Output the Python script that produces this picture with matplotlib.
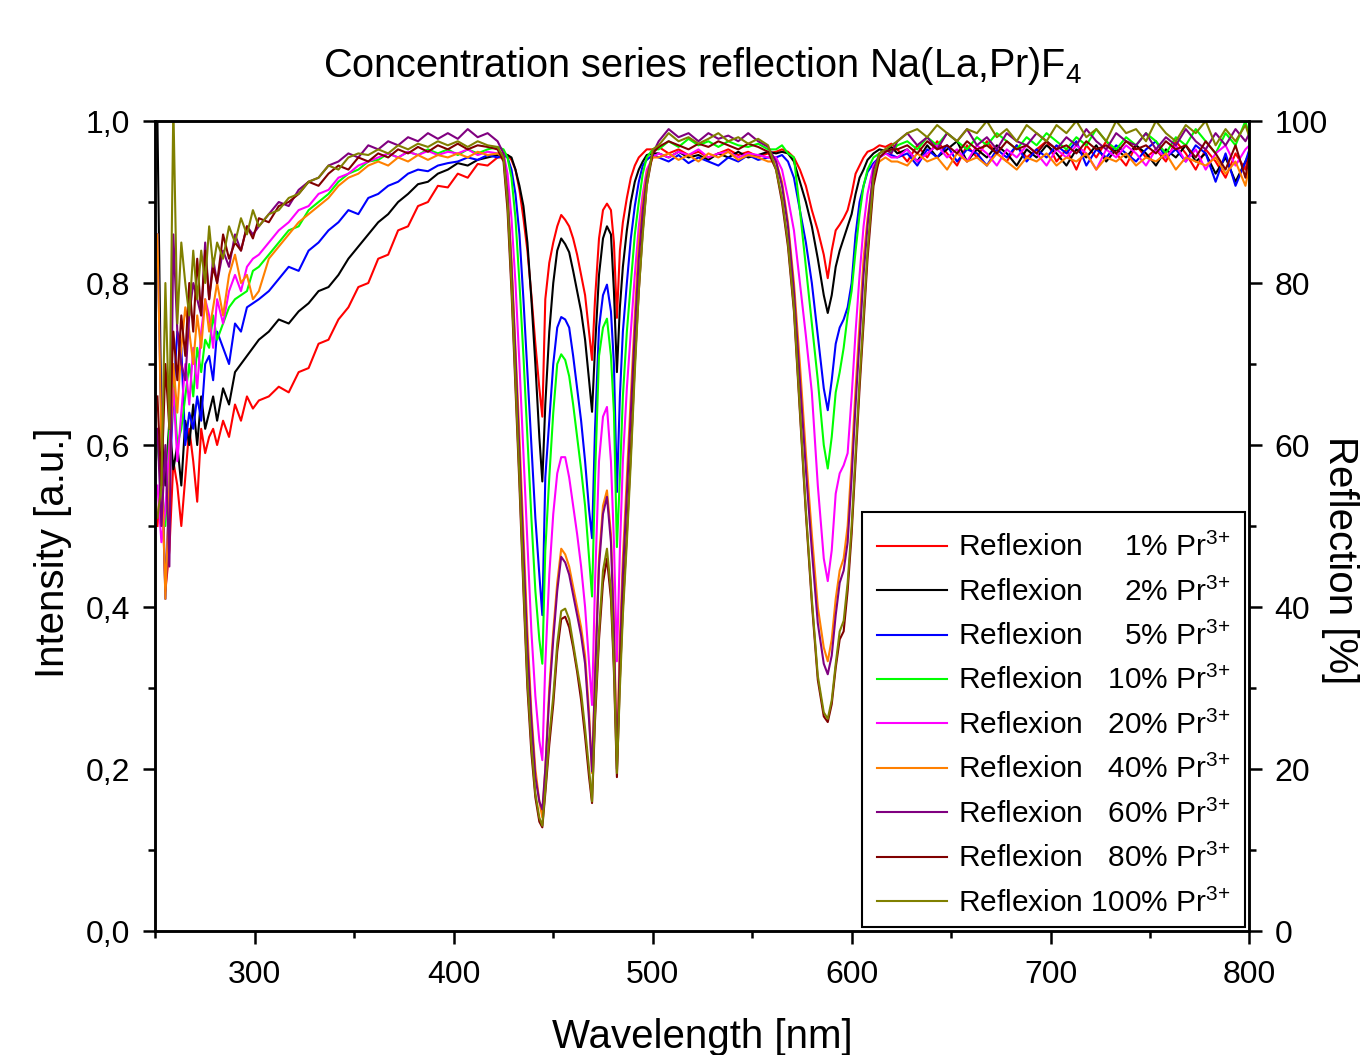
import numpy as np
import matplotlib
matplotlib.use("Agg")
import matplotlib.pyplot as plt
import matplotlib.transforms as mtransforms
from matplotlib.ticker import MultipleLocator, FuncFormatter

plt.rcParams['font.family'] = ['Liberation Sans', 'DejaVu Sans']
plt.rcParams['mathtext.fontset'] = 'custom'
plt.rcParams['mathtext.rm'] = 'Liberation Sans'
plt.rcParams['mathtext.it'] = 'Liberation Sans:italic'
plt.rcParams['mathtext.bf'] = 'Liberation Sans:bold'

# wavelength grid [nm]
wavelength = [
    251, 253, 255, 257, 259, 261, 263, 265, 267, 269, 271, 273, 275, 277, 279, 281, 284, 287, 290, 293, 296, 299,
    302, 307, 312, 317, 322, 327, 332, 337, 342, 347, 352, 357, 362, 367, 372, 377, 382, 387, 392, 397, 402, 407, 412, 417, 422,
    425, 427, 429, 431, 433, 435, 437, 439, 441, 443, 444.5, 446, 448, 450, 452, 454, 456, 458, 460, 462, 464, 466, 468,
    469.5, 471, 473, 475, 477, 479, 480.5, 482, 483.5, 485, 487, 489, 491, 493, 495, 497, 500,
    503, 508, 513, 518, 523, 528, 533, 538, 543, 548, 553, 558,
    562, 565, 568, 571, 574, 577, 580, 583, 586, 588, 590, 592, 594, 596, 598, 600, 602, 604, 606, 608, 611, 614, 617, 620,
    623, 628, 633, 638, 643, 648, 653, 658, 663, 668, 673, 678, 683, 688, 693, 698, 703, 708, 713, 718,
    723, 728, 733, 738, 743, 748, 753, 758, 763, 768, 773, 778, 783, 788, 793, 798, 800,
]

pr_1 = [
    0.50, 0.57, 0.42, 0.47, 0.58, 0.55, 0.50, 0.56, 0.62, 0.58, 0.53, 0.62, 0.59, 0.61, 0.62, 0.60, 0.63, 0.61, 0.65, 0.63, 0.66, 0.645,
    0.655, 0.66, 0.672, 0.665, 0.69, 0.695, 0.725, 0.73, 0.755, 0.77, 0.795, 0.80, 0.83, 0.835, 0.865, 0.87, 0.895, 0.90, 0.92, 0.918, 0.935, 0.93, 0.947, 0.945, 0.955,
    0.955, 0.958, 0.952, 0.94, 0.915, 0.88, 0.84, 0.785, 0.725, 0.67, 0.635, 0.78, 0.825, 0.85, 0.87, 0.884, 0.878, 0.87, 0.855, 0.835, 0.81, 0.785, 0.74,
    0.705, 0.78, 0.855, 0.89, 0.898, 0.89, 0.85, 0.757, 0.84, 0.875, 0.905, 0.93, 0.945, 0.955, 0.96, 0.965, 0.965,
    0.968, 0.96, 0.965, 0.958, 0.962, 0.955, 0.96, 0.965, 0.958, 0.962, 0.956, 0.96,
    0.962, 0.965, 0.962, 0.955, 0.94, 0.92, 0.89, 0.865, 0.835, 0.806, 0.84, 0.865, 0.872, 0.88, 0.89, 0.91, 0.935, 0.945, 0.955, 0.962, 0.965, 0.97, 0.968, 0.972,
    0.965, 0.95, 0.97, 0.955, 0.975, 0.96, 0.945, 0.97, 0.955, 0.975, 0.96, 0.95, 0.97, 0.955, 0.965, 0.975, 0.95, 0.965, 0.94, 0.97,
    0.955, 0.975, 0.96, 0.945, 0.97, 0.955, 0.965, 0.95, 0.975, 0.96, 0.94, 0.965, 0.95, 0.93, 0.96, 0.94, 0.965,
]
pr_2 = [
    1.0, 0.62, 0.55, 0.63, 0.57, 0.60, 0.55, 0.63, 0.60, 0.65, 0.60, 0.66, 0.62, 0.64, 0.66, 0.63, 0.67, 0.65, 0.69, 0.70, 0.71, 0.72,
    0.73, 0.74, 0.755, 0.75, 0.765, 0.775, 0.79, 0.795, 0.81, 0.83, 0.845, 0.86, 0.875, 0.885, 0.90, 0.91, 0.922, 0.925, 0.935, 0.94, 0.948, 0.945, 0.952, 0.955, 0.958,
    0.96, 0.958, 0.955, 0.94, 0.92, 0.895, 0.85, 0.78, 0.70, 0.61, 0.555, 0.65, 0.74, 0.80, 0.84, 0.855, 0.848, 0.838, 0.815, 0.79, 0.765, 0.73, 0.68,
    0.641, 0.72, 0.81, 0.855, 0.87, 0.86, 0.79, 0.69, 0.77, 0.82, 0.865, 0.90, 0.925, 0.94, 0.95, 0.958, 0.96,
    0.96, 0.955, 0.962, 0.955, 0.958, 0.952, 0.96, 0.955, 0.962, 0.955, 0.958, 0.962,
    0.96, 0.962, 0.96, 0.95, 0.925, 0.90, 0.87, 0.83, 0.785, 0.763, 0.785, 0.82, 0.84, 0.855, 0.87, 0.885, 0.91, 0.93, 0.94, 0.952, 0.96, 0.965, 0.963, 0.968,
    0.96, 0.965, 0.95, 0.97, 0.955, 0.965, 0.975, 0.95, 0.965, 0.955, 0.97, 0.96, 0.945, 0.965, 0.955, 0.97, 0.96, 0.945, 0.965, 0.955,
    0.97, 0.95, 0.965, 0.955, 0.97, 0.96, 0.945, 0.965, 0.955, 0.97, 0.95, 0.96, 0.935, 0.955, 0.925, 0.95, 0.96,
]
pr_5 = [
    0.86, 0.62, 0.41, 0.55, 0.66, 0.74, 0.72, 0.60, 0.64, 0.62, 0.66, 0.63, 0.70, 0.71, 0.68, 0.74, 0.72, 0.70, 0.75, 0.74, 0.77, 0.775,
    0.78, 0.79, 0.805, 0.82, 0.815, 0.84, 0.85, 0.865, 0.875, 0.89, 0.885, 0.905, 0.91, 0.92, 0.925, 0.935, 0.94, 0.938, 0.945, 0.948, 0.95, 0.955, 0.952, 0.958, 0.955,
    0.958, 0.955, 0.94, 0.91, 0.86, 0.78, 0.69, 0.60, 0.51, 0.44, 0.39, 0.56, 0.63, 0.70, 0.745, 0.758, 0.755, 0.745, 0.71, 0.67, 0.63, 0.58, 0.52,
    0.485, 0.62, 0.745, 0.785, 0.798, 0.765, 0.70, 0.542, 0.66, 0.74, 0.80, 0.855, 0.895, 0.925, 0.945, 0.952, 0.958,
    0.955, 0.95, 0.958, 0.948, 0.955, 0.95, 0.945, 0.955, 0.95, 0.958, 0.952, 0.955,
    0.955, 0.958, 0.95, 0.93, 0.89, 0.85, 0.80, 0.735, 0.67, 0.643, 0.68, 0.725, 0.745, 0.755, 0.77, 0.80, 0.86, 0.90, 0.92, 0.937, 0.948, 0.955, 0.96, 0.958,
    0.955, 0.96, 0.945, 0.965, 0.955, 0.97, 0.95, 0.965, 0.96, 0.945, 0.965, 0.955, 0.97, 0.95, 0.965, 0.955, 0.97, 0.96, 0.975, 0.945,
    0.965, 0.955, 0.97, 0.96, 0.95, 0.965, 0.975, 0.955, 0.965, 0.95, 0.97, 0.96, 0.925, 0.96, 0.92, 0.95, 0.965,
]
pr_10 = [
    0.60, 0.55, 0.50, 0.62, 0.68, 0.60, 0.62, 0.66, 0.70, 0.66, 0.72, 0.69, 0.73, 0.72, 0.76, 0.73, 0.75, 0.77, 0.78, 0.785, 0.79, 0.815,
    0.82, 0.835, 0.85, 0.865, 0.87, 0.89, 0.90, 0.91, 0.925, 0.935, 0.94, 0.95, 0.952, 0.96, 0.955, 0.962, 0.958, 0.965, 0.96, 0.965, 0.958, 0.965, 0.96, 0.965, 0.968,
    0.965, 0.955, 0.93, 0.88, 0.80, 0.71, 0.61, 0.51, 0.42, 0.36, 0.33, 0.47, 0.56, 0.64, 0.70, 0.712, 0.705, 0.685, 0.65, 0.61, 0.57, 0.525, 0.46,
    0.413, 0.56, 0.71, 0.745, 0.756, 0.71, 0.64, 0.474, 0.56, 0.66, 0.74, 0.80, 0.86, 0.90, 0.935, 0.955, 0.965,
    0.965, 0.975, 0.968, 0.978, 0.97, 0.975, 0.968, 0.975, 0.97, 0.968, 0.972, 0.965,
    0.965, 0.97, 0.96, 0.955, 0.89, 0.82, 0.75, 0.68, 0.60, 0.571, 0.61, 0.665, 0.69, 0.72, 0.76, 0.79, 0.84, 0.885, 0.92, 0.94, 0.955, 0.96, 0.965, 0.962,
    0.97, 0.975, 0.965, 0.98, 0.97, 0.985, 0.975, 0.965, 0.98, 0.97, 0.985, 0.975, 0.965, 0.98, 0.97, 0.985, 0.975, 0.965, 0.98, 0.97,
    0.99, 0.975, 0.965, 0.98, 0.97, 0.985, 0.975, 0.96, 0.98, 0.97, 0.99, 0.975, 0.96, 0.985, 0.97, 1.0, 0.98,
]
pr_20 = [
    0.55, 0.48, 0.52, 0.60, 0.67, 0.58, 0.64, 0.70, 0.65, 0.72, 0.67, 0.74, 0.78, 0.76, 0.72, 0.78, 0.75, 0.79, 0.81, 0.79, 0.82, 0.83,
    0.835, 0.85, 0.865, 0.875, 0.89, 0.895, 0.91, 0.915, 0.93, 0.935, 0.945, 0.95, 0.955, 0.96, 0.955, 0.962, 0.958, 0.963, 0.958, 0.962, 0.96, 0.965, 0.958, 0.962, 0.96,
    0.96, 0.935, 0.88, 0.80, 0.70, 0.59, 0.48, 0.37, 0.29, 0.235, 0.211, 0.33, 0.44, 0.515, 0.565, 0.585, 0.585, 0.56, 0.525, 0.49, 0.45, 0.40, 0.33,
    0.279, 0.43, 0.58, 0.635, 0.647, 0.58, 0.48, 0.333, 0.47, 0.58, 0.67, 0.74, 0.81, 0.87, 0.91, 0.94, 0.955,
    0.96, 0.955, 0.962, 0.958, 0.965, 0.955, 0.96, 0.962, 0.955, 0.96, 0.958, 0.955,
    0.955, 0.94, 0.905, 0.865, 0.80, 0.735, 0.665, 0.55, 0.46, 0.432, 0.47, 0.54, 0.565, 0.575, 0.59, 0.66, 0.74, 0.81, 0.87, 0.91, 0.945, 0.955, 0.96, 0.955,
    0.955, 0.965, 0.95, 0.96, 0.97, 0.955, 0.965, 0.95, 0.97, 0.96, 0.945, 0.965, 0.955, 0.97, 0.96, 0.945, 0.965, 0.955, 0.97, 0.96,
    0.94, 0.965, 0.955, 0.97, 0.96, 0.945, 0.965, 0.955, 0.97, 0.95, 0.965, 0.94, 0.96, 0.97, 0.945, 0.965, 0.97,
]
pr_40 = [
    0.86, 0.60, 0.41, 0.55, 0.70, 0.64, 0.72, 0.77, 0.74, 0.70, 0.76, 0.72, 0.78, 0.74, 0.77, 0.80, 0.76, 0.81, 0.835, 0.80, 0.81, 0.78,
    0.79, 0.83, 0.845, 0.86, 0.875, 0.885, 0.895, 0.905, 0.92, 0.93, 0.935, 0.945, 0.95, 0.945, 0.955, 0.95, 0.958, 0.952, 0.958, 0.955, 0.96, 0.955, 0.962, 0.958, 0.96,
    0.955, 0.91, 0.83, 0.72, 0.61, 0.49, 0.37, 0.27, 0.20, 0.16, 0.14, 0.20, 0.30, 0.37, 0.43, 0.472, 0.465, 0.45, 0.425, 0.40, 0.375, 0.34, 0.27,
    0.195, 0.32, 0.46, 0.525, 0.544, 0.49, 0.38, 0.21, 0.36, 0.46, 0.56, 0.66, 0.76, 0.85, 0.90, 0.935, 0.955,
    0.955, 0.96, 0.952, 0.958, 0.95, 0.96, 0.955, 0.962, 0.952, 0.958, 0.955, 0.95,
    0.95, 0.925, 0.875, 0.80, 0.70, 0.59, 0.49, 0.40, 0.35, 0.333, 0.36, 0.41, 0.445, 0.46, 0.50, 0.58, 0.67, 0.75, 0.83, 0.88, 0.935, 0.95, 0.955, 0.95,
    0.95, 0.945, 0.96, 0.95, 0.955, 0.94, 0.96, 0.95, 0.955, 0.945, 0.96, 0.95, 0.94, 0.955, 0.95, 0.96, 0.945, 0.955, 0.95, 0.96,
    0.94, 0.955, 0.95, 0.96, 0.945, 0.955, 0.95, 0.96, 0.94, 0.955, 0.95, 0.945, 0.955, 0.935, 0.95, 0.92, 0.945,
]
pr_60 = [
    0.62, 0.50, 0.60, 0.45, 0.86, 0.74, 0.70, 0.68, 0.76, 0.80, 0.78, 0.76, 0.85, 0.78, 0.83, 0.80, 0.84, 0.82, 0.86, 0.84, 0.87, 0.86,
    0.87, 0.885, 0.90, 0.895, 0.915, 0.925, 0.93, 0.945, 0.95, 0.96, 0.955, 0.97, 0.965, 0.975, 0.97, 0.98, 0.975, 0.985, 0.978, 0.985, 0.978, 0.99, 0.98, 0.985, 0.975,
    0.96, 0.91, 0.82, 0.71, 0.59, 0.47, 0.35, 0.26, 0.19, 0.16, 0.15, 0.20, 0.29, 0.36, 0.42, 0.462, 0.455, 0.44, 0.415, 0.39, 0.365, 0.33, 0.26,
    0.197, 0.31, 0.45, 0.515, 0.536, 0.48, 0.37, 0.20, 0.34, 0.44, 0.54, 0.64, 0.74, 0.83, 0.89, 0.93, 0.96,
    0.975, 0.99, 0.98, 0.985, 0.975, 0.985, 0.978, 0.982, 0.975, 0.985, 0.975, 0.968,
    0.95, 0.92, 0.87, 0.79, 0.68, 0.57, 0.47, 0.38, 0.33, 0.317, 0.34, 0.39, 0.43, 0.445, 0.48, 0.56, 0.65, 0.73, 0.81, 0.87, 0.94, 0.96, 0.965, 0.96,
    0.975, 0.985, 0.97, 0.98, 0.965, 0.985, 0.975, 0.99, 0.97, 0.98, 0.965, 0.985, 0.975, 0.97, 0.985, 0.975, 0.965, 0.98, 0.97, 0.99,
    0.975, 0.965, 0.985, 0.975, 0.97, 0.985, 0.965, 0.98, 0.97, 0.99, 0.975, 0.965, 0.985, 0.97, 0.99, 0.975, 0.985,
]
pr_80 = [
    0.66, 0.55, 0.70, 0.62, 0.74, 0.68, 0.76, 0.71, 0.80, 0.74, 0.83, 0.76, 0.84, 0.78, 0.82, 0.80, 0.86, 0.83, 0.85, 0.84, 0.87, 0.855,
    0.88, 0.875, 0.895, 0.90, 0.91, 0.925, 0.92, 0.935, 0.945, 0.94, 0.955, 0.95, 0.96, 0.955, 0.965, 0.96, 0.968, 0.962, 0.97, 0.965, 0.972, 0.965, 0.97, 0.968, 0.965,
    0.95, 0.89, 0.79, 0.67, 0.55, 0.42, 0.30, 0.22, 0.165, 0.135, 0.128, 0.17, 0.23, 0.28, 0.345, 0.385, 0.388, 0.375, 0.35, 0.32, 0.285, 0.24, 0.19,
    0.158, 0.26, 0.36, 0.43, 0.46, 0.41, 0.32, 0.19, 0.31, 0.40, 0.49, 0.59, 0.70, 0.79, 0.865, 0.92, 0.96,
    0.968, 0.975, 0.97, 0.965, 0.972, 0.968, 0.975, 0.97, 0.965, 0.972, 0.968, 0.962,
    0.94, 0.90, 0.845, 0.765, 0.64, 0.515, 0.405, 0.31, 0.265, 0.258, 0.28, 0.325, 0.36, 0.37, 0.42, 0.49, 0.58, 0.67, 0.75, 0.83, 0.92, 0.955, 0.962, 0.965,
    0.965, 0.97, 0.96, 0.975, 0.965, 0.97, 0.96, 0.975, 0.965, 0.97, 0.96, 0.975, 0.965, 0.97, 0.96, 0.975, 0.965, 0.97, 0.96, 0.975,
    0.965, 0.97, 0.96, 0.975, 0.965, 0.97, 0.96, 0.975, 0.965, 0.97, 0.955, 0.975, 0.96, 0.94, 0.97, 0.93, 0.96,
]
pr_100 = [
    0.51, 0.55, 0.80, 0.62, 1.02, 0.75, 0.85, 0.80, 0.76, 0.84, 0.78, 0.84, 0.80, 0.87, 0.82, 0.85, 0.83, 0.87, 0.85, 0.88, 0.86, 0.89,
    0.87, 0.885, 0.89, 0.905, 0.91, 0.925, 0.93, 0.945, 0.94, 0.955, 0.96, 0.958, 0.965, 0.96, 0.97, 0.965, 0.972, 0.968, 0.975, 0.97, 0.975, 0.968, 0.975, 0.97, 0.968,
    0.955, 0.90, 0.80, 0.68, 0.56, 0.43, 0.31, 0.23, 0.17, 0.14, 0.13, 0.175, 0.24, 0.29, 0.355, 0.395, 0.398, 0.385, 0.355, 0.325, 0.295, 0.25, 0.20,
    0.16, 0.27, 0.37, 0.445, 0.472, 0.42, 0.33, 0.195, 0.30, 0.39, 0.48, 0.58, 0.69, 0.79, 0.86, 0.92, 0.965,
    0.97, 0.985, 0.975, 0.98, 0.972, 0.978, 0.985, 0.975, 0.98, 0.972, 0.978, 0.97,
    0.94, 0.905, 0.85, 0.77, 0.645, 0.52, 0.41, 0.315, 0.27, 0.262, 0.285, 0.33, 0.37, 0.383, 0.43, 0.50, 0.59, 0.68, 0.76, 0.84, 0.93, 0.96, 0.965, 0.97,
    0.975, 0.985, 0.99, 0.98, 0.995, 0.985, 0.975, 0.99, 0.985, 1.0, 0.98, 0.99, 0.975, 0.995, 0.985, 0.975, 0.995, 0.985, 1.0, 0.98,
    0.99, 0.975, 1.0, 0.985, 0.99, 0.975, 1.0, 0.985, 0.975, 0.995, 0.985, 1.0, 0.97, 0.99, 0.975, 0.995, 0.98,
]

series = [pr_1, pr_2, pr_5, pr_10, pr_20, pr_40, pr_60, pr_80, pr_100]
percents = [1, 2, 5, 10, 20, 40, 60, 80, 100]
colors = ['#ff0000', '#000000', '#0000ff', '#00ff00', '#ff00ff',
          '#ff8000', '#800080', '#800000', '#808000']

for s in series:
    assert len(s) == len(wavelength), (len(s), len(wavelength))


def legend_label(pct):
    # pad with spaces so the percentages line up right (space = half a digit)
    pad = ' ' * (1 + 2 * (3 - len(str(pct))))
    return 'Reflexion' + pad + f'{pct}% Pr$^{{3{{+}}}}$'


fig = plt.figure(figsize=(13.6, 10.55), dpi=100)
ax = fig.add_axes([0.1143, 0.1175, 0.8044, 0.7678])

for vals, color, pct in zip(series, colors, percents):
    ax.plot(wavelength, vals, color=color, lw=1.5, label=legend_label(pct))

ax.set_xlim(250, 800)
ax.set_ylim(0, 1.0)
ax.xaxis.set_major_locator(MultipleLocator(100))
ax.xaxis.set_minor_locator(MultipleLocator(50))
ax.yaxis.set_major_locator(MultipleLocator(0.2))
ax.yaxis.set_minor_locator(MultipleLocator(0.1))
ax.yaxis.set_major_formatter(FuncFormatter(lambda v, p: f'{v:.1f}'.replace('.', ',')))

for sp in ax.spines.values():
    sp.set_linewidth(1.8)
ax.tick_params(which='major', direction='out', length=9, width=1.8, labelsize=23, pad=9)
ax.tick_params(axis='x', which='major', pad=12)
ax.tick_params(which='minor', direction='out', length=5, width=1.8)

ax.set_xlabel('Wavelength [nm]', fontsize=29, labelpad=20)
ax.set_ylabel('Intensity [a.u.]', fontsize=29, va='center')
ax.yaxis.set_label_coords(-0.094, 0.467)
ax.set_title('Concentration series reflection Na(La,Pr)F$_4$', fontsize=28.5, pad=32)

ax2 = ax.twinx()
ax2.set_ylim(0, 100)
ax2.yaxis.set_major_locator(MultipleLocator(20))
ax2.yaxis.set_minor_locator(MultipleLocator(10))
ax2.tick_params(which='major', direction='out', length=9, width=1.8, labelsize=23, pad=9)
ax2.tick_params(which='minor', direction='out', length=5, width=1.8)
for sp in ax2.spines.values():
    sp.set_linewidth(1.8)
ax2.set_ylabel('Reflection [%]', fontsize=29, rotation=270, va='center')
ax2.yaxis.set_label_coords(1.083, 0.458)

leg = ax.legend(loc='lower right', fontsize=21.5, frameon=True, fancybox=False,
                edgecolor='black', framealpha=1, handlelength=2.35, handletextpad=0.35,
                labelspacing=0.51, borderaxespad=0.15, borderpad=0.5)
leg.get_frame().set_linewidth(1.5)
# rows sit a little lower inside the box in the original
shift = mtransforms.ScaledTranslation(0, -6 / 100, fig.dpi_scale_trans)
for t in leg.get_texts():
    t.set_transform(t.get_transform() + shift)
for h in leg.legend_handles:
    h.set_transform(h.get_transform() + shift)

fig.savefig('out.png', dpi=100)
